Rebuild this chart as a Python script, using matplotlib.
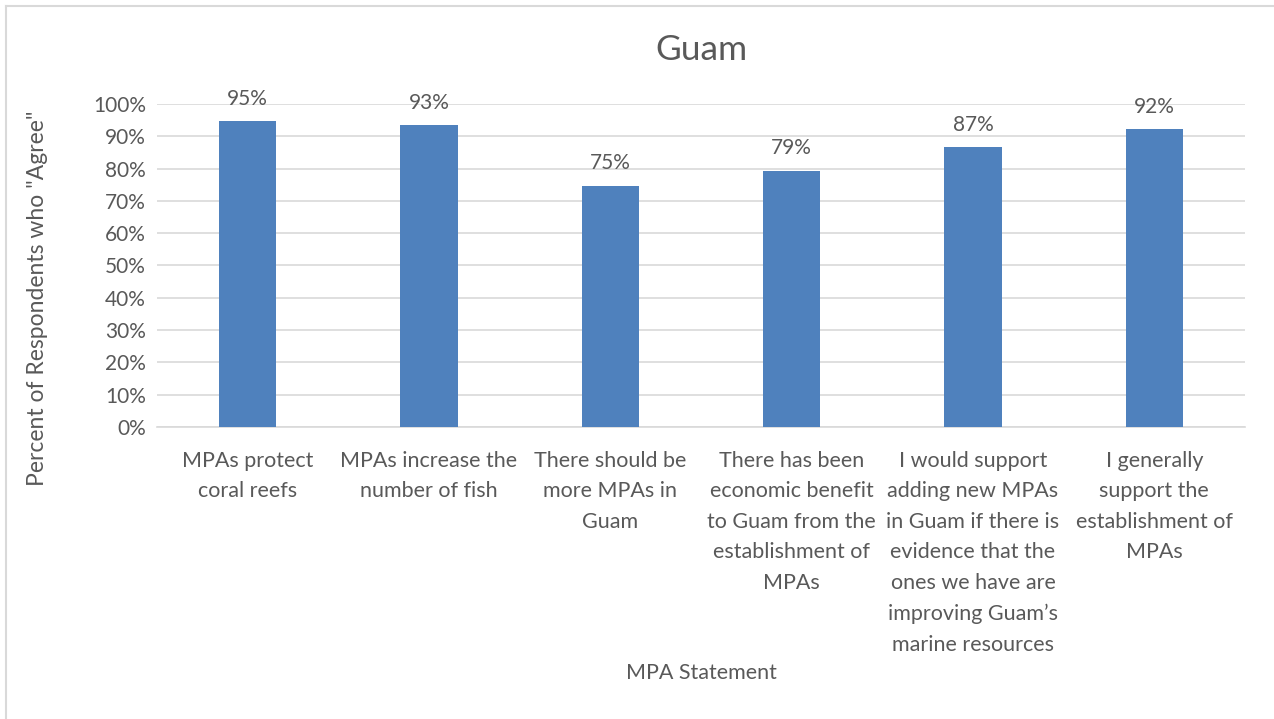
import matplotlib
matplotlib.use("Agg")
import matplotlib.pyplot as plt
from matplotlib.ticker import PercentFormatter, MultipleLocator
from matplotlib.lines import Line2D

categories = [
    "MPAs protect\ncoral reefs",
    "MPAs increase the\nnumber of fish",
    "There should be\nmore MPAs in\nGuam",
    "There has been\neconomic benefit\nto Guam from the\nestablishment of\nMPAs",
    "I would support\nadding new MPAs\nin Guam if there is\nevidence that the\nones we have are\nimproving Guam\u2019s\nmarine resources",
    "I generally\nsupport the\nestablishment of\nMPAs",
]
values = [0.946, 0.934, 0.747, 0.794, 0.866, 0.922]

title = "Guam"
ylabel = 'Percent of Respondents who "Agree"'
xlabel = "MPA Statement"

TXT = "#595959"
GRID = "#d9d9d9"
BAR = "#4f81bd"
FONT = "Lato"

W, H = 1274, 719
fig = plt.figure(figsize=(W / 100, H / 100), dpi=100)
plt.rcParams["font.family"] = [FONT, "DejaVu Sans"]

# chart border
fig.add_artist(Line2D([6.5 / W, 6.5 / W], [0, 1 - 5.5 / H], transform=fig.transFigure, color=GRID, lw=1.5))
fig.add_artist(Line2D([6.5 / W, 1], [1 - 5.5 / H, 1 - 5.5 / H], transform=fig.transFigure, color=GRID, lw=1.5))

left, right, top, bottom = 157, 1245, 104, 427
ax = fig.add_axes([left / W, 1 - bottom / H, (right - left) / W, (bottom - top) / H])

x = list(range(len(categories)))
bars = ax.bar(x, values, width=0.315, color=BAR, zorder=3)
ax.set_xlim(-0.5, len(categories) - 0.5)
ax.set_ylim(0, 1.0)
ax.yaxis.set_major_locator(MultipleLocator(0.1))
ax.yaxis.set_major_formatter(PercentFormatter(1.0, decimals=0))
ax.grid(axis="y", color=GRID, lw=1.2, zorder=0)
ax.set_axisbelow(True)
for s in ["top", "right", "left"]:
    ax.spines[s].set_visible(False)
ax.spines["bottom"].set_color(GRID)
ax.spines["bottom"].set_linewidth(1.2)
ax.tick_params(axis="y", length=0, pad=8, labelsize=15, labelcolor=TXT)
ax.tick_params(axis="x", length=0, pad=17, labelsize=15.5, labelcolor=TXT)
ax.set_xticks(x)
ax.set_xticklabels(categories, linespacing=1.66)

for xi, v in zip(x, values):
    ax.annotate(f"{round(v * 100):d}%", (xi, v), xytext=(0, 9), textcoords="offset points",
                ha="center", va="bottom", fontsize=15, color=TXT)

fig.text((left + right) / 2 / W, 1 - 50 / H, title, ha="center", va="center", fontsize=25.5, color=TXT)
fig.text(38 / W, 1 - 298 / H, ylabel, rotation=90, ha="center", va="center", fontsize=16.5, color=TXT)
fig.text((left + right) / 2 / W, 1 - 673 / H, xlabel, ha="center", va="center", fontsize=15.5, color=TXT)

fig.savefig("out.png", dpi=100, facecolor="white")
